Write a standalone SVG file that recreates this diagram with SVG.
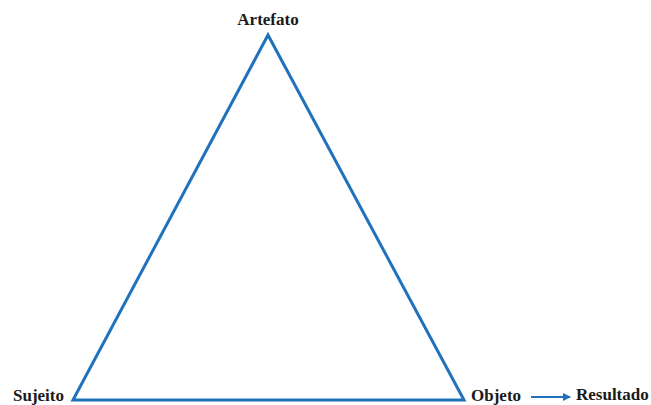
<svg xmlns="http://www.w3.org/2000/svg" width="651" height="405" viewBox="0 0 651 405">
<style>
.lbl{font-family:"Liberation Serif","Times New Roman",serif;font-weight:bold;font-size:17px;fill:#1a1a1a}
.edge{stroke:#1f72bb;stroke-width:3;fill:none}
</style>
<defs>
<marker id="ah" markerWidth="8" markerHeight="8" refX="7" refY="4" orient="auto" markerUnits="userSpaceOnUse">
<path d="M0,0 L8,4 L0,8 Z" fill="#1f72bb"/>
</marker>
</defs>
<rect width="651" height="405" fill="#ffffff"/>
<g id="connectors">
<polygon class="edge" points="268,35 73,400 464,400" stroke-linejoin="miter"/>
<line x1="531" y1="397" x2="570" y2="397" stroke="#1f72bb" stroke-width="2" marker-end="url(#ah)"/>
</g>
<g id="artefato"><text class="lbl" x="268" y="25" text-anchor="middle">Artefato</text></g>
<g id="sujeito"><text class="lbl" x="13" y="401">Sujeito</text></g>
<g id="objeto"><text class="lbl" x="471" y="401">Objeto</text></g>
<g id="resultado"><text class="lbl" x="576" y="400">Resultado</text></g>
</svg>
